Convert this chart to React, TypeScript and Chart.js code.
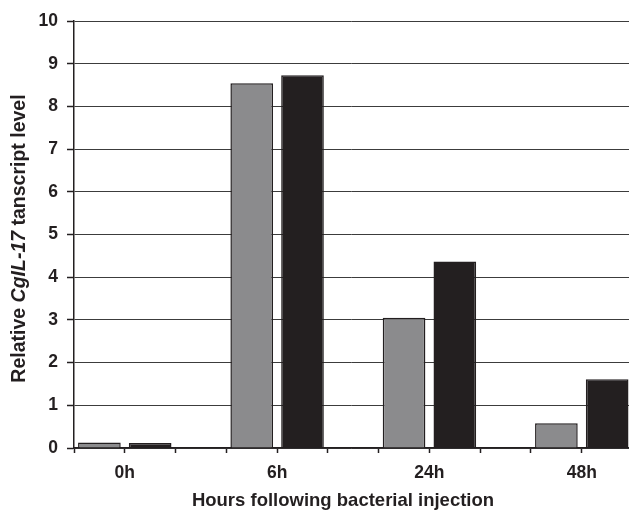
import React, { useEffect, useRef } from "react";
import { Chart, registerables } from "chart.js";

Chart.register(...registerables);

// ---- data ----
const categories: string[] = ["0h", "6h", "24h", "48h"];
const seriesGray: number[] = [0.13, 8.54, 3.05, 0.58];
const seriesBlack: number[] = [0.12, 8.73, 4.37, 1.61];
const yTicks: number[] = [0, 1, 2, 3, 4, 5, 6, 7, 8, 9, 10];
const xTitle = "Hours following bacterial injection";
const yTitleParts: { text: string; italic: boolean }[] = [
  { text: "Relative ", italic: false },
  { text: "CgIL-17", italic: true },
  { text: " tanscript level", italic: false },
];

// each category occupies 3 slots on a linear axis; label sits at slot 1 of each group
const SLOTS_PER_GROUP = 3;
const catPos = (i: number) => i * SLOTS_PER_GROUP + 1;

const FONT = "'Liberation Sans', Arial, sans-serif";
const INK = "#231f20";

const titlePlugin = {
  id: "axisTitles",
  afterDraw(chart: any) {
    const { ctx, chartArea } = chart;
    ctx.save();
    ctx.fillStyle = INK;
    // y title (mixed italic)
    const fs = 19.5;
    const fonts = yTitleParts.map((p) =>
      `${p.italic ? "italic " : ""}bold ${fs}px ${FONT}`
    );
    let total = 0;
    const widths = yTitleParts.map((p, i) => {
      ctx.font = fonts[i];
      const w = ctx.measureText(p.text).width;
      total += w;
      return w;
    });
    const cy = (chartArea.top + chartArea.bottom) / 2 + 4;
    ctx.translate(24.5, cy);
    ctx.rotate(-Math.PI / 2);
    ctx.textBaseline = "alphabetic";
    ctx.textAlign = "left";
    let x = -total / 2;
    yTitleParts.forEach((p, i) => {
      ctx.font = fonts[i];
      ctx.fillText(p.text, x, 0);
      x += widths[i];
    });
    ctx.restore();

    // x title
    ctx.save();
    ctx.fillStyle = INK;
    ctx.font = `bold 18.5px ${FONT}`;
    ctx.textAlign = "center";
    ctx.textBaseline = "alphabetic";
    ctx.fillText(xTitle, 343, 505.5);
    ctx.restore();
  },
};

export default function App() {
  const canvasRef = useRef<HTMLCanvasElement | null>(null);

  useEffect(() => {
    document.body.style.margin = "0";
    const canvas = canvasRef.current;
    if (!canvas) return;
    const labelFor = (v: number) => {
      const idx = categories.findIndex((_, i) => catPos(i) === v);
      return idx >= 0 ? categories[idx] : "";
    };
    const chart = new Chart(canvas, {
      type: "bar",
      data: {
        datasets: [
          {
            data: seriesGray.map((y, i) => ({ x: catPos(i), y })),
            backgroundColor: "#8b8b8d",
            borderColor: INK,
            borderWidth: 1.5,
            categoryPercentage: 2,
            barPercentage: 0.84,
          },
          {
            data: seriesBlack.map((y, i) => ({ x: catPos(i), y })),
            backgroundColor: INK,
            borderColor: INK,
            borderWidth: 1.5,
            categoryPercentage: 2,
            barPercentage: 0.84,
          },
        ] as any,
      },
      options: {
        animation: false,
        responsive: true,
        maintainAspectRatio: false,
        layout: { padding: { top: 21, left: 0, right: 0, bottom: 0 } },
        plugins: {
          legend: { display: false },
          tooltip: { enabled: false },
        },
        scales: {
          x: {
            type: "linear",
            offset: false,
            min: 0,
            max: 10.93,
            afterFit: (scale: any) => {
              scale.height = 63;
            },
            afterBuildTicks: (scale: any) => {
              const t: { value: number }[] = [];
              for (let v = 0; v <= 10; v++) t.push({ value: v });
              scale.ticks = t;
            },
            grid: {
              offset: false,
              drawOnChartArea: false,
              drawTicks: true,
              tickLength: 5,
              tickColor: INK,
              tickWidth: 1.5,
            },
            border: { display: true, color: INK, width: 1.5 },
            ticks: {
              autoSkip: false,
              maxRotation: 0,
              padding: 10,
              color: INK,
              font: { family: FONT, size: 17.5, weight: "bold" },
              callback: (v: any) => labelFor(Number(v)),
            },
          },
          y: {
            min: yTicks[0],
            max: yTicks[yTicks.length - 1],
            afterFit: (scale: any) => {
              scale.width = 74;
            },
            afterBuildTicks: (scale: any) => {
              scale.ticks = yTicks.map((v) => ({ value: v }));
            },
            grid: {
              color: "#3c3c3c",
              lineWidth: 1,
              drawTicks: true,
              tickLength: 7,
              tickColor: INK,
              tickWidth: 1.5,
            },
            border: { display: true, color: INK, width: 1.5 },
            ticks: {
              padding: 9,
              color: INK,
              font: { family: FONT, size: 17.5, weight: "bold" },
            },
          },
        },
      } as any,
      plugins: [titlePlugin],
    });
    return () => chart.destroy();
  }, []);

  return (
    <div style={{ width: 629, height: 511, position: "relative", overflow: "hidden" }}>
      <canvas ref={canvasRef} />
    </div>
  );
}
